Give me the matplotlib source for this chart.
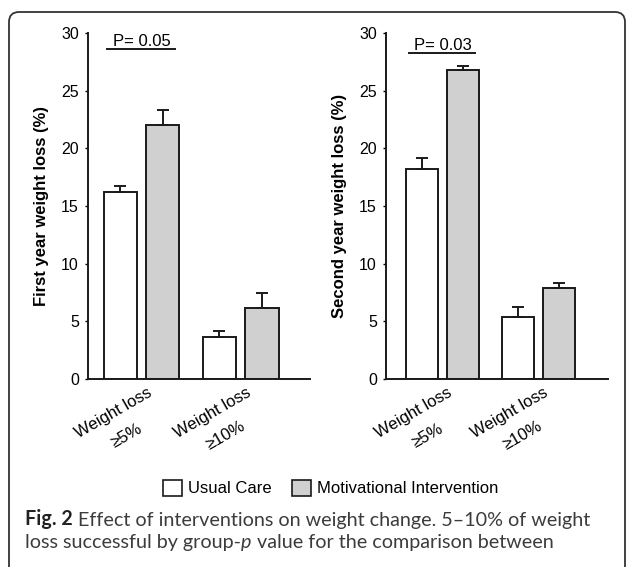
import numpy as np
import matplotlib
matplotlib.use('Agg')
import matplotlib.pyplot as plt
from matplotlib.patches import Patch, FancyBboxPatch
from matplotlib.transforms import ScaledTranslation

plt.rcParams['font.family'] = ['Liberation Sans', 'DejaVu Sans']

# data
groups = ['Weight loss\n≥5%', 'Weight loss\n≥10%']
series = ['Usual Care', 'Motivational Intervention']
year1_usual = [16.2, 3.6]
year1_usual_err = [0.5, 0.55]
year1_motiv = [22.0, 6.15]
year1_motiv_err = [1.35, 1.3]
year2_usual = [18.2, 5.4]
year2_usual_err = [1.0, 0.85]
year2_motiv = [26.8, 7.9]
year2_motiv_err = [0.35, 0.45]
p_texts = ['P= 0.05', 'P= 0.03']
p_levels = [28.65, 28.3]
ylabels = ['First year weight loss (%)', 'Second year weight loss (%)']

fill_colors = ['white', '#d0d0d0']

fig = plt.figure(figsize=(6.27, 5.67), dpi=100)

# rounded frame around the whole figure (open at the bottom)
frame = FancyBboxPatch((9/627, -0.05), 616/627, 0.05 + 1 - 12/567,
                       boxstyle='round,pad=0,rounding_size=0.016',
                       mutation_aspect=627/567, transform=fig.transFigure,
                       facecolor='none', edgecolor='#333333', linewidth=1.3)
fig.patches.append(frame)

axes_pos = [[88/627, 1-379/567, 222/627, 346/567],
            [386/627, 1-379/567, 222/627, 346/567]]
xlims = [(-0.54, 1.70), (-0.59, 1.73)]
data = [(year1_usual, year1_usual_err, year1_motiv, year1_motiv_err),
        (year2_usual, year2_usual_err, year2_motiv, year2_motiv_err)]

x = np.arange(len(groups))
w = 0.335
off = 0.215

for i in range(2):
    ax = fig.add_axes(axes_pos[i])
    usual, usual_err, motiv, motiv_err = data[i]
    for j, (vals, errs) in enumerate([(usual, usual_err), (motiv, motiv_err)]):
        xs = x + (2*j - 1)*off
        ax.bar(xs, vals, width=w, color=fill_colors[j], edgecolor='#1a1a1a',
               linewidth=1.4, zorder=2)
        ax.errorbar(xs, vals, yerr=[np.zeros(len(errs)), errs], fmt='none',
                    ecolor='#1a1a1a', elinewidth=1.4, capsize=4.5, capthick=1.4, zorder=3)
    ax.set_ylim(0, 30)
    ax.set_xlim(*xlims[i])
    ax.set_yticks([0, 5, 10, 15, 20, 25, 30])
    ax.tick_params(axis='y', labelsize=11.5, length=2.5, width=1, pad=4)
    ax.set_xticks([])
    for s in ['top', 'right']:
        ax.spines[s].set_visible(False)
    for s in ['left', 'bottom']:
        ax.spines[s].set_linewidth(1.4)
        ax.spines[s].set_color('#1a1a1a')
    ax.set_ylabel(ylabels[i], fontsize=12, fontweight='bold', labelpad=9)

    # category labels, rotated
    trans = ax.get_xaxis_transform() + ScaledTranslation(5/100, -6/100, fig.dpi_scale_trans)
    for k, g in enumerate(groups):
        ax.text(x[k], 0, g, transform=trans, rotation=30, rotation_mode='anchor',
                ha='right', va='top', multialignment='center', linespacing=1.95,
                fontsize=12)

    # significance bar
    ax.plot([x[0] - off - w/2 + 0.03, x[0] + off + w/2 - 0.04], [p_levels[i]]*2,
            color='#1a1a1a', linewidth=1.4, clip_on=False)
    ax.text(x[0], p_levels[i] + 0.2, p_texts[i], ha='center', va='baseline', fontsize=12)

handles = [Patch(facecolor=fill_colors[j], edgecolor='#1a1a1a', linewidth=1.2) for j in range(2)]
fig.legend(handles, series, loc='center', bbox_to_anchor=(0.527, 1-488/567),
           ncol=2, frameon=False, fontsize=12, handlelength=1.15, handleheight=1.15,
           handletextpad=0.35, columnspacing=1.2, borderpad=0)

# caption
cap_font = 'Lato'
cap_size = 14.2
t1 = fig.text(25/627, 1-525/567, 'Fig. 2', fontsize=cap_size, fontweight='bold',
              family=cap_font, color='#222222', va='baseline')
plt.annotate(' Effect of interventions on weight change. 5–10% of weight',
             xy=(1, 0), xycoords=t1, va='bottom', fontsize=cap_size,
             family=cap_font, color='#3c3c3c', annotation_clip=False)
l1 = fig.text(25/627, 1-548/567, 'loss successful by group-', fontsize=cap_size,
              family=cap_font, color='#3c3c3c', va='baseline')
l2 = plt.annotate('p', xy=(1, 0), xycoords=l1, va='bottom', fontsize=cap_size,
                  family=cap_font, style='italic', color='#3c3c3c', annotation_clip=False)
plt.annotate(' value for the comparison between', xy=(1, 0), xycoords=l2, va='bottom',
             fontsize=cap_size, family=cap_font, color='#3c3c3c', annotation_clip=False)

fig.savefig('out.png', dpi=100)
